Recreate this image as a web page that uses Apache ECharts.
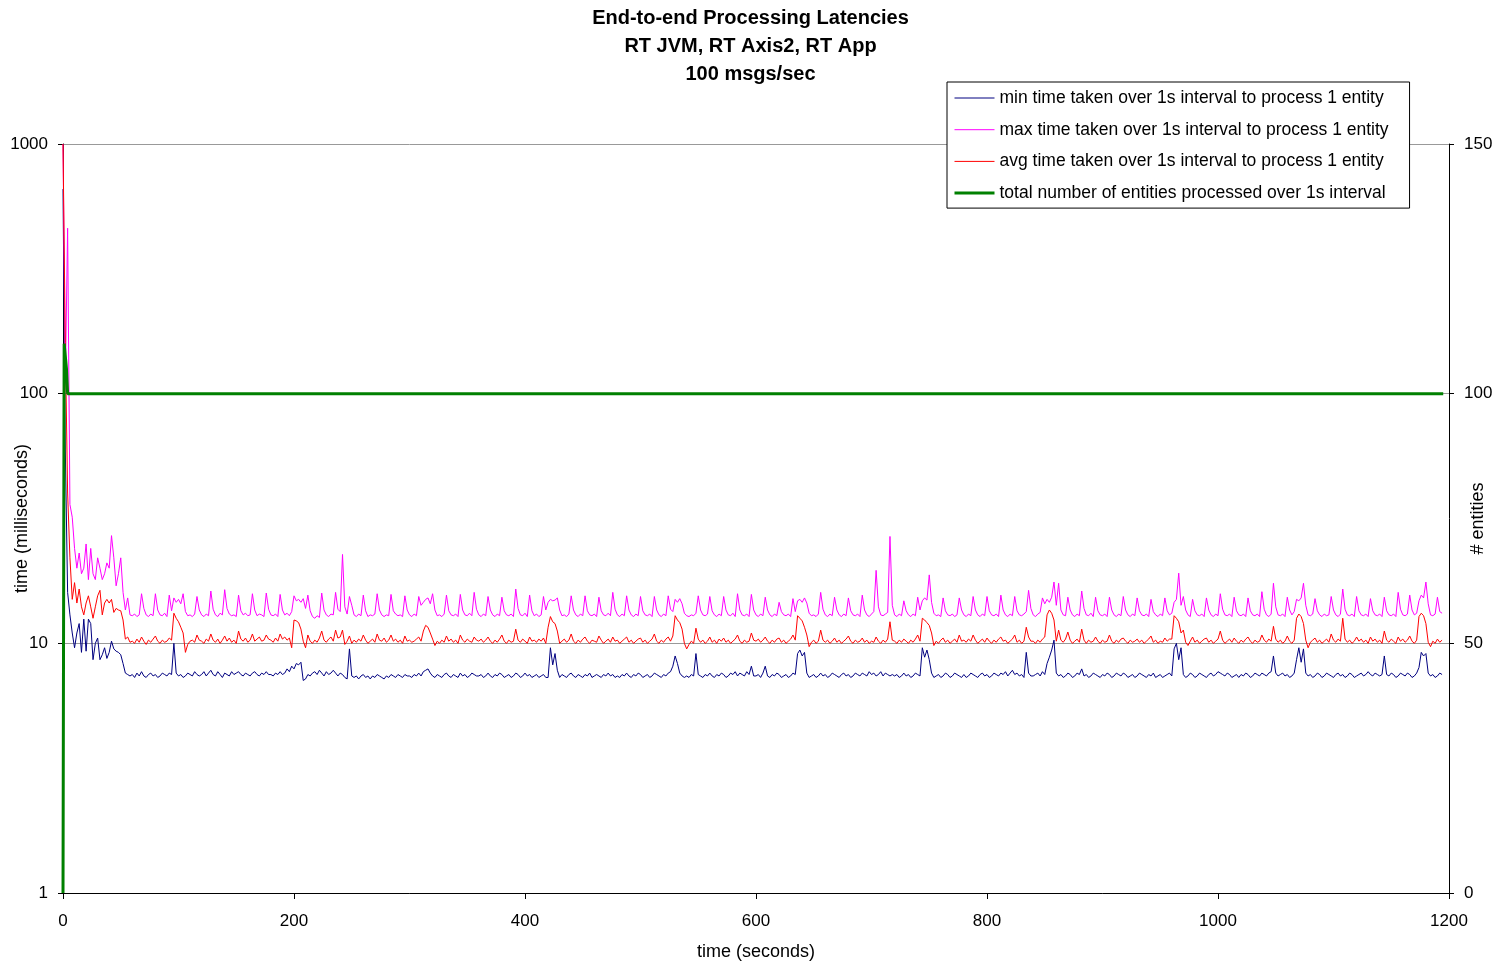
<!DOCTYPE html>
<html>
<head>
<meta charset="utf-8">
<title>End-to-end Processing Latencies</title>
<script src="https://cdn.jsdelivr.net/npm/echarts@6/dist/echarts.min.js"></script>
<style>
	html, body { margin: 0; padding: 0; background: #fff; }
	#chart { width: 1501px; height: 966px; }
</style>
</head>
<body>
<div id="chart"></div>
<script>
// one sample every 2 seconds, starting at t = 0
var sampleStep = 2;

var seriesNames = [
	'min time taken over 1s interval to process 1 entity',
	'max time taken over 1s interval to process 1 entity',
	'avg time taken over 1s interval to process 1 entity',
	'total number of entities processed over 1s interval'
];

// min latency (ms)
var minMs = [
	660, 60, 16, 13, 11, 9.6, 11, 12, 9.2, 12.5, 9.3, 12.5, 12, 8.6, 10, 10.5, 8.6, 9, 9.6, 8.7, 9.2, 10.2, 9.5, 9.3, 9.2, 9.0, 8.3, 7.6, 7.5, 7.4,
	7.5, 7.3, 7.6, 7.4, 7.7, 7.4, 7.3, 7.5, 7.6, 7.4, 7.5, 7.3, 7.4, 7.6, 7.5, 7.4, 7.6, 7.5, 10.0, 7.6, 7.4, 7.5, 7.3, 7.4, 7.6, 7.5, 7.4, 7.7, 7.5, 7.4,
	7.5, 7.7, 7.4, 7.6, 7.8, 7.5, 7.4, 7.7, 7.5, 7.3, 7.6, 7.5, 7.4, 7.7, 7.5, 7.6, 7.7, 7.5, 7.4, 7.6, 7.5, 7.4, 7.6, 7.7, 7.5, 7.4, 7.6, 7.5, 7.7, 7.5,
	7.5, 7.4, 7.6, 7.5, 7.7, 7.5, 7.6, 7.9, 7.7, 8.1, 7.9, 8.3, 8.2, 8.4, 7.1, 7.2, 7.5, 7.4, 7.6, 7.7, 7.5, 7.8, 7.6, 7.4, 7.7, 7.5, 7.6, 7.8, 7.6, 7.4,
	7.6, 7.5, 7.3, 7.2, 9.5, 7.4, 7.3, 7.4, 7.2, 7.4, 7.5, 7.3, 7.4, 7.2, 7.4, 7.3, 7.5, 7.4, 7.3, 7.2, 7.4, 7.3, 7.5, 7.4, 7.3, 7.5, 7.4, 7.3, 7.5, 7.4,
	7.4, 7.3, 7.5, 7.4, 7.6, 7.4, 7.7, 7.8, 7.9, 7.6, 7.4, 7.3, 7.5, 7.4, 7.3, 7.5, 7.6, 7.4, 7.3, 7.5, 7.4, 7.3, 7.6, 7.4, 7.5, 7.3, 7.4, 7.6, 7.5, 7.4,
	7.4, 7.5, 7.3, 7.4, 7.6, 7.4, 7.3, 7.5, 7.4, 7.6, 7.5, 7.3, 7.4, 7.5, 7.3, 7.4, 7.6, 7.5, 7.3, 7.4, 7.6, 7.4, 7.5, 7.3, 7.4, 7.5, 7.3, 7.4, 7.5, 7.3,
	7.3, 9.6, 8.2, 9.1, 7.8, 7.3, 7.5, 7.4, 7.3, 7.5, 7.6, 7.4, 7.3, 7.5, 7.4, 7.3, 7.5, 7.4, 7.6, 7.3, 7.4, 7.5, 7.4, 7.3, 7.5, 7.4, 7.6, 7.4, 7.5, 7.3,
	7.4, 7.3, 7.5, 7.4, 7.6, 7.4, 7.3, 7.5, 7.4, 7.6, 7.5, 7.3, 7.4, 7.5, 7.3, 7.4, 7.6, 7.5, 7.4, 7.3, 7.5, 7.4, 7.6, 7.7, 8.1, 8.9, 8.3, 7.6, 7.4, 7.3,
	7.4, 7.3, 7.5, 7.4, 9.1, 7.5, 7.4, 7.3, 7.5, 7.4, 7.6, 7.4, 7.3, 7.5, 7.4, 7.6, 7.5, 7.3, 7.4, 7.6, 7.5, 7.7, 7.4, 7.6, 7.5, 7.4, 7.7, 7.5, 8.1, 7.4,
	7.4, 7.5, 7.3, 7.6, 8.1, 7.4, 7.3, 7.5, 7.4, 7.6, 7.5, 7.3, 7.4, 7.5, 7.3, 7.4, 7.6, 7.5, 9.1, 9.4, 8.9, 9.2, 7.6, 7.3, 7.4, 7.5, 7.3, 7.4, 7.6, 7.4,
	7.5, 7.3, 7.4, 7.6, 7.5, 7.4, 7.3, 7.5, 7.6, 7.4, 7.5, 7.3, 7.4, 7.6, 7.5, 7.4, 7.6, 7.5, 7.4, 7.7, 7.5, 7.6, 7.4, 7.5, 7.7, 7.4, 7.6, 7.5, 7.4, 7.5,
	7.4, 7.5, 7.3, 7.4, 7.6, 7.4, 7.5, 7.3, 7.4, 7.6, 7.5, 7.4, 9.6, 8.8, 9.4, 8.6, 7.6, 7.3, 7.4, 7.5, 7.3, 7.4, 7.6, 7.5, 7.3, 7.4, 7.6, 7.5, 7.4, 7.3,
	7.5, 7.3, 7.4, 7.6, 7.5, 7.4, 7.3, 7.5, 7.6, 7.4, 7.5, 7.3, 7.4, 7.6, 7.5, 7.4, 7.6, 7.5, 7.7, 7.4, 7.6, 7.8, 7.5, 7.6, 7.4, 7.5, 7.3, 9.2, 7.6, 7.4,
	7.4, 7.5, 7.6, 7.4, 7.7, 7.5, 8.3, 8.8, 9.4, 10.3, 7.6, 7.4, 7.5, 7.3, 7.4, 7.6, 7.5, 7.3, 7.4, 7.6, 7.5, 7.9, 7.4, 7.5, 7.3, 7.4, 7.6, 7.5, 7.4, 7.3,
	7.5, 7.4, 7.6, 7.5, 7.3, 7.4, 7.6, 7.5, 7.4, 7.6, 7.5, 7.3, 7.4, 7.5, 7.3, 7.4, 7.6, 7.5, 7.4, 7.3, 7.5, 7.4, 7.6, 7.3, 7.4, 7.5, 7.3, 7.4, 7.5, 7.6,
	7.4, 9.5, 10.0, 8.6, 9.6, 7.5, 7.3, 7.4, 7.6, 7.5, 7.3, 7.4, 7.6, 7.5, 7.4, 7.3, 7.5, 7.6, 7.4, 7.5, 7.7, 7.6, 7.5, 7.4, 7.6, 7.5, 7.3, 7.4, 7.5, 7.3,
	7.5, 7.4, 7.6, 7.5, 7.3, 7.4, 7.6, 7.5, 7.4, 7.6, 7.5, 7.4, 7.6, 7.7, 8.9, 7.6, 7.4, 7.5, 7.6, 7.4, 7.5, 7.3, 7.4, 7.6, 8.6, 9.6, 8.4, 9.5, 7.6, 7.4,
	7.5, 7.3, 7.4, 7.6, 7.5, 7.3, 7.4, 7.6, 7.5, 7.4, 7.3, 7.5, 7.6, 7.4, 7.5, 7.3, 7.4, 7.6, 7.5, 7.3, 7.4, 7.5, 7.6, 7.4, 7.5, 7.7, 7.5, 7.4, 7.6, 7.5,
	7.4, 7.5, 8.9, 7.5, 7.4, 7.6, 7.5, 7.3, 7.4, 7.6, 7.5, 7.4, 7.6, 7.5, 7.3, 7.4, 7.6, 8.0, 9.2, 8.9, 9.1, 7.6, 7.4, 7.5, 7.3, 7.4, 7.6, 7.5
];

// max latency (ms)
var maxMs = [
	1000, 110, 460, 36, 32, 24, 20, 23, 19, 20, 25, 18, 24, 19, 18, 22, 20, 18, 19, 21, 20, 27, 22, 17, 19, 22, 16, 13.6, 15.2, 13.0,
	12.9, 13.1, 12.8, 13.0, 15.8, 13.8, 13.0, 12.8, 13.1, 12.9, 15.8, 13.6, 13.0, 12.9, 13.2, 12.8, 15.6, 13.5, 15.2, 14.6, 15.0, 14.4, 15.8, 13.4, 12.9, 13.0, 12.8, 13.1, 15.4, 13.6,
	13.0, 12.8, 13.1, 12.9, 16.2, 13.7, 13.0, 12.8, 13.2, 13.0, 16.4, 13.8, 13.1, 12.9, 13.0, 12.8, 15.6, 13.5, 13.0, 13.2, 12.9, 13.0, 15.8, 13.6, 12.9, 13.1, 13.0, 12.8, 15.9, 13.7,
	13.0, 12.9, 13.1, 12.8, 15.7, 13.6, 13.0, 13.2, 12.9, 13.4, 15.5, 14.8, 15.0, 14.6, 15.1, 13.8, 15.6, 13.5, 12.8, 12.6, 12.9, 12.7, 15.9, 13.6, 13.0, 12.8, 13.1, 13.0, 16.0, 13.7,
	13.4, 22.7, 14.0, 13.1, 15.4, 14.2, 13.0, 12.8, 13.1, 12.9, 15.6, 13.5, 12.8, 13.0, 12.9, 13.1, 15.8, 13.6, 13.0, 12.8, 13.0, 12.9, 15.7, 13.5, 13.1, 12.9, 13.0, 12.8, 15.5, 13.6,
	13.0, 12.8, 13.1, 12.9, 15.4, 14.2, 14.6, 15.0, 15.2, 14.4, 15.8, 13.6, 12.9, 13.0, 12.8, 13.1, 15.6, 13.5, 13.0, 12.9, 13.1, 12.8, 15.7, 13.6, 13.0, 12.9, 13.2, 12.9, 16.0, 13.7,
	13.0, 12.8, 13.1, 12.9, 15.4, 13.6, 13.0, 12.8, 13.1, 12.9, 15.3, 13.5, 13.0, 12.9, 13.1, 12.8, 16.5, 13.8, 13.0, 12.9, 13.2, 12.8, 15.6, 13.5, 12.9, 13.1, 12.8, 13.0, 15.4, 13.6,
	14.6, 15.0, 14.8, 14.9, 15.2, 13.6, 12.9, 13.0, 12.8, 13.1, 15.5, 13.6, 13.0, 12.8, 13.1, 12.9, 15.5, 13.5, 13.0, 12.9, 13.1, 12.8, 15.3, 13.5, 13.0, 12.9, 13.2, 12.9, 16.0, 13.7,
	13.0, 12.8, 13.1, 12.9, 15.5, 13.6, 13.0, 12.8, 13.1, 12.9, 15.4, 13.5, 13.0, 12.9, 13.1, 12.8, 15.4, 13.6, 13.0, 12.8, 13.1, 12.9, 15.5, 13.7, 13.4, 15.0, 14.6, 15.1, 14.4, 13.2,
	12.9, 12.8, 13.0, 12.9, 13.2, 15.5, 13.6, 13.0, 12.9, 13.1, 15.4, 13.5, 13.0, 12.8, 13.1, 12.9, 15.4, 13.6, 13.0, 12.9, 13.2, 12.8, 15.8, 13.6, 13.0, 12.9, 13.1, 12.8, 15.7, 13.6,
	13.0, 12.8, 13.1, 12.9, 15.3, 13.6, 13.0, 12.8, 13.1, 12.9, 14.6, 13.4, 13.0, 12.9, 13.1, 12.8, 15.1, 13.4, 14.8, 15.0, 14.6, 15.2, 14.5, 13.2, 12.9, 13.0, 12.8, 13.1, 16.0, 13.7,
	13.0, 12.8, 13.1, 12.9, 15.3, 13.6, 13.0, 12.8, 13.1, 12.9, 15.2, 13.5, 13.0, 12.9, 13.1, 12.8, 15.6, 13.6, 13.0, 12.8, 13.1, 13.4, 19.6, 14.0, 13.0, 12.9, 13.1, 13.3, 26.8, 14.2,
	13.0, 12.8, 13.1, 12.9, 14.8, 13.5, 13.0, 12.8, 13.1, 12.9, 15.3, 13.6, 14.8, 15.2, 14.9, 18.8, 14.6, 13.2, 12.9, 13.0, 12.8, 15.2, 13.5, 13.0, 12.9, 13.1, 12.8, 13.0, 15.2, 13.6,
	13.0, 12.8, 13.1, 12.9, 15.4, 13.6, 13.0, 12.8, 13.1, 12.9, 15.4, 13.5, 13.0, 12.9, 13.1, 12.8, 15.6, 13.6, 13.0, 12.8, 13.1, 12.9, 15.4, 13.5, 13.0, 12.9, 13.1, 13.4, 16.3, 13.8,
	13.0, 12.8, 13.1, 13.3, 15.2, 14.4, 15.0, 14.6, 15.3, 17.6, 14.2, 17.4, 13.6, 13.0, 12.9, 15.3, 13.6, 13.0, 12.8, 13.1, 12.9, 16.2, 13.8, 13.0, 12.9, 13.2, 12.8, 15.3, 13.5, 13.0,
	12.9, 13.1, 12.8, 15.3, 13.6, 13.0, 12.8, 13.1, 12.9, 15.4, 13.6, 13.0, 12.8, 13.1, 12.9, 15.2, 13.5, 13.0, 12.9, 13.1, 12.8, 15.0, 13.4, 13.0, 12.8, 13.1, 12.9, 15.2, 13.5, 13.0,
	13.2, 14.6, 15.0, 19.1, 14.2, 15.4, 13.6, 13.0, 12.8, 15.0, 13.5, 13.0, 12.9, 13.1, 12.8, 15.2, 13.6, 13.0, 12.8, 13.1, 12.9, 15.8, 13.7, 13.0, 12.9, 13.1, 12.8, 15.3, 13.5, 13.0,
	12.9, 13.1, 12.8, 15.2, 13.5, 13.0, 12.9, 13.1, 12.8, 16.1, 13.7, 13.0, 12.8, 13.1, 17.4, 14.0, 13.0, 12.9, 13.1, 12.8, 15.3, 13.6, 13.0, 13.4, 15.0, 14.8, 15.2, 17.4, 14.2, 13.0,
	12.9, 13.1, 15.1, 13.5, 13.0, 12.8, 13.1, 12.9, 13.0, 15.4, 13.6, 13.0, 12.8, 13.1, 16.5, 13.7, 13.0, 12.9, 13.1, 12.8, 15.4, 13.5, 13.0, 12.9, 13.1, 12.8, 15.1, 13.5, 13.0, 12.9,
	13.1, 12.8, 15.3, 13.5, 13.0, 12.9, 13.1, 12.8, 16.0, 13.7, 13.0, 12.9, 13.1, 15.6, 13.6, 13.0, 13.2, 14.8, 15.6, 15.2, 17.6, 14.4, 13.0, 12.9, 13.1, 15.3, 13.4, 13.2
];

// average latency (ms)
var avgMs = [
	1000, 160, 40, 22, 15, 17.5, 14.5, 16.5, 14, 13, 14.5, 15.5, 14, 12.6, 14, 15.5, 16.3, 13, 14.5, 15, 14.5, 15, 13.3, 13.8, 13.6, 13.5, 12.4, 10.4, 10.6, 10.1,
	10.2, 10.0, 10.4, 10.1, 10.6, 10.2, 9.9, 10.3, 10.1, 10.4, 10.7, 10.2, 10.0, 10.3, 10.1, 10.2, 10.5, 10.3, 13.2, 12.6, 12.2, 11.6, 11.0, 9.2, 9.9, 10.2, 10.3, 10.1, 10.8, 10.3,
	10.2, 10.0, 10.4, 10.2, 10.9, 10.3, 10.1, 10.4, 10.0, 10.3, 10.7, 10.2, 10.5, 10.1, 10.3, 10.0, 11.2, 10.4, 10.2, 10.5, 10.1, 10.3, 10.9, 10.2, 10.4, 10.6, 10.2, 10.3, 10.8, 10.4,
	10.3, 10.1, 10.5, 10.2, 10.9, 10.4, 10.6, 10.3, 10.5, 9.6, 12.4, 12.3, 12.1, 11.4, 10.2, 9.6, 10.8, 10.2, 10.0, 10.3, 10.1, 10.5, 11.2, 10.3, 10.1, 10.4, 10.6, 10.2, 11.3, 10.5,
	10.6, 11.3, 9.9, 10.2, 10.7, 10.0, 10.3, 10.1, 10.4, 10.2, 10.8, 10.3, 10.0, 10.2, 10.4, 10.1, 10.9, 10.3, 10.2, 10.5, 10.1, 10.3, 10.8, 10.2, 10.4, 10.1, 10.3, 10.0, 10.7, 10.2,
	10.3, 10.1, 10.2, 10.4, 10.6, 10.2, 11.2, 11.8, 11.6, 11.0, 10.4, 9.8, 10.2, 10.0, 10.3, 10.1, 10.7, 10.2, 10.4, 10.1, 10.3, 10.0, 10.8, 10.3, 10.1, 10.4, 10.2, 10.1, 10.6, 10.3,
	10.2, 10.4, 10.1, 10.3, 10.6, 10.2, 10.0, 10.3, 10.1, 10.4, 10.8, 10.2, 10.0, 10.3, 10.1, 10.2, 11.4, 10.3, 10.1, 10.4, 10.2, 10.0, 10.6, 10.2, 10.3, 10.1, 10.4, 10.2, 10.5, 10.0,
	11.6, 12.8, 12.2, 12.0, 11.2, 10.0, 10.2, 10.4, 10.1, 10.3, 10.9, 10.2, 10.0, 10.3, 10.1, 10.4, 10.6, 10.2, 10.0, 10.3, 10.2, 10.1, 10.7, 10.3, 10.0, 10.2, 10.4, 10.1, 10.6, 10.2,
	10.3, 10.0, 10.2, 10.4, 10.6, 10.1, 10.3, 10.0, 10.2, 10.4, 10.5, 10.1, 10.3, 10.0, 10.2, 10.4, 10.9, 10.2, 10.0, 10.3, 10.1, 10.4, 10.6, 10.2, 10.7, 12.9, 12.4, 12.1, 11.4, 10.0,
	9.5, 9.9, 10.2, 10.0, 11.5, 10.4, 10.1, 10.3, 10.0, 10.2, 10.6, 10.1, 10.3, 10.0, 10.4, 10.2, 10.5, 10.1, 10.3, 10.0, 10.2, 10.4, 10.8, 10.2, 10.0, 10.3, 10.1, 10.2, 11.0, 10.3,
	10.2, 10.4, 10.1, 10.3, 10.6, 10.2, 10.0, 10.3, 10.1, 10.4, 10.5, 10.1, 10.3, 10.0, 10.2, 10.4, 10.8, 10.3, 12.9, 12.6, 12.3, 11.6, 10.8, 9.7, 10.1, 10.3, 10.0, 10.2, 11.3, 10.3,
	10.1, 10.3, 10.0, 10.2, 10.5, 10.1, 10.3, 10.0, 10.2, 10.4, 10.7, 10.2, 10.0, 10.3, 10.1, 10.2, 10.5, 10.1, 10.3, 10.0, 10.2, 10.1, 10.6, 10.2, 10.0, 10.3, 10.1, 10.4, 12.2, 10.3,
	10.2, 10.0, 10.3, 10.1, 10.4, 10.2, 10.0, 10.3, 10.1, 10.4, 10.8, 10.2, 12.6, 12.4, 12.1, 11.8, 11.0, 9.8, 10.2, 10.0, 10.3, 10.5, 10.1, 10.3, 10.0, 10.2, 10.4, 10.1, 10.8, 10.2,
	10.3, 10.1, 10.4, 10.2, 10.8, 10.3, 10.0, 10.2, 10.4, 10.1, 10.5, 10.2, 10.0, 10.3, 10.1, 10.4, 10.6, 10.2, 10.3, 10.0, 10.2, 10.4, 10.8, 10.1, 10.3, 10.0, 10.2, 11.6, 10.6, 10.2,
	10.2, 10.0, 10.3, 10.1, 10.4, 10.6, 13.0, 13.6, 13.2, 12.4, 10.2, 11.3, 10.3, 10.1, 10.4, 11.1, 10.3, 10.0, 10.2, 10.4, 10.1, 11.4, 10.3, 10.0, 10.3, 10.1, 10.2, 10.6, 10.2, 10.0,
	10.3, 10.1, 10.2, 10.8, 10.2, 10.0, 10.3, 10.1, 10.4, 10.5, 10.2, 10.0, 10.3, 10.1, 10.2, 10.4, 10.1, 10.3, 10.0, 10.2, 10.4, 10.7, 10.1, 10.3, 10.0, 10.2, 10.1, 10.5, 10.2, 10.4,
	10.4, 12.9, 12.6, 12.2, 11.0, 11.3, 10.1, 9.8, 10.2, 10.6, 10.1, 10.3, 10.0, 10.2, 10.4, 10.5, 10.1, 10.3, 10.0, 10.2, 10.4, 11.2, 10.3, 10.0, 10.2, 10.4, 10.1, 10.5, 10.2, 10.0,
	10.3, 10.1, 10.4, 10.6, 10.2, 10.0, 10.3, 10.1, 10.2, 10.8, 10.3, 10.1, 10.4, 10.2, 11.7, 10.4, 10.1, 10.3, 10.0, 10.2, 10.7, 10.2, 10.0, 10.3, 12.6, 13.1, 12.8, 12.0, 10.3, 9.6,
	10.1, 10.3, 10.5, 10.1, 10.3, 10.0, 10.2, 10.4, 10.1, 10.9, 10.3, 10.1, 10.4, 10.2, 12.6, 10.4, 10.1, 10.3, 10.0, 10.2, 10.6, 10.2, 10.4, 10.1, 10.3, 10.0, 10.6, 10.2, 10.4, 10.1,
	10.3, 10.0, 11.2, 10.3, 10.1, 10.4, 10.2, 10.0, 10.6, 10.2, 10.4, 10.1, 10.3, 10.7, 10.2, 10.0, 10.3, 12.8, 13.2, 12.9, 12.0, 10.1, 9.7, 10.2, 10.0, 10.4, 10.1, 10.3
];

// entities processed per second: [time (s), count]
var entities = [[0, 0], [1, 110], [2.5, 110], [3, 105], [4, 100], [1195, 100]];

function toPoints(values) {
	return values.map(function(v, i) {
		return [i * sampleStep, v];
	});
}

function plainNumber(v) {
	return String(v);
}

var myChart = echarts.init(document.getElementById('chart'), null, { renderer: 'canvas' });
var axisFont = { color: '#000', fontSize: 17, fontFamily: 'Liberation Sans', formatter: plainNumber };
var option = {
	backgroundColor: '#fff',
	animation: false,
	textStyle: { fontFamily: 'Liberation Sans' },
	title: {
		text: 'End-to-end Processing Latencies\nRT JVM, RT Axis2, RT App\n100 msgs/sec',
		left: 'center',
		top: 4,
		padding: 0,
		textStyle: {
			color: '#000',
			fontSize: 20,
			fontWeight: 'bold',
			lineHeight: 28,
			fontFamily: 'Liberation Sans'
		}
	},
	legend: {
		orient: 'vertical',
		left: 947,
		top: 82,
		padding: [7, 21, 6, 6],
		itemWidth: 40,
		itemHeight: 18,
		itemGap: 13.7,
		borderColor: '#000',
		borderWidth: 1,
		backgroundColor: '#fff',
		// hide the marker dot, keep only the line sample
		itemStyle: { opacity: 0 },
		textStyle: { color: '#000', fontSize: 17.5, fontFamily: 'Liberation Sans' },
		data: [
			{ name: seriesNames[0], lineStyle: { width: 1 } },
			{ name: seriesNames[1], lineStyle: { width: 1 } },
			{ name: seriesNames[2], lineStyle: { width: 1 } },
			{ name: seriesNames[3], lineStyle: { width: 3 } }
		]
	},
	grid: { left: 63, right: 52, top: 144, bottom: 73, containLabel: false, outerBoundsMode: 'none' },
	xAxis: {
		type: 'value',
		min: 0,
		max: 1200,
		interval: 200,
		name: 'time (seconds)',
		nameLocation: 'middle',
		nameGap: 50,
		nameMoveOverlap: false,
		nameTextStyle: { color: '#000', fontSize: 18 },
		axisLine: { show: true, lineStyle: { color: '#000', width: 1 } },
		axisTick: { show: true, length: 6, lineStyle: { color: '#000' } },
		axisLabel: Object.assign({ margin: 20 }, axisFont),
		splitLine: { show: false }
	},
	yAxis: [{
		type: 'log',
		logBase: 10,
		min: 1,
		max: 1000,
		name: 'time (milliseconds)',
		nameLocation: 'middle',
		nameGap: 32,
		nameRotate: 90,
		nameMoveOverlap: false,
		nameTextStyle: { color: '#000', fontSize: 18 },
		axisLine: { show: true, lineStyle: { color: '#000', width: 1 } },
		axisTick: { show: true, length: 5, lineStyle: { color: '#000' } },
		axisLabel: Object.assign({ margin: 15 }, axisFont),
		minorTick: { show: false },
		splitLine: { show: true, lineStyle: { color: '#999', width: 1 } }
	}, {
		type: 'value',
		position: 'right',
		min: 0,
		max: 150,
		interval: 50,
		name: '# entities',
		nameLocation: 'middle',
		nameGap: 20,
		nameRotate: 90,
		nameMoveOverlap: false,
		nameTextStyle: { color: '#000', fontSize: 18 },
		axisLine: { show: true, lineStyle: { color: '#000', width: 1 } },
		axisTick: { show: true, length: 5, lineStyle: { color: '#000' } },
		axisLabel: Object.assign({ margin: 15 }, axisFont),
		splitLine: { show: false }
	}],
	series: [{
		name: seriesNames[0],
		type: 'line',
		yAxisIndex: 0,
		symbol: 'none',
		data: toPoints(minMs),
		lineStyle: { color: '#000080', width: 1 },
		itemStyle: { color: '#000080' }
	}, {
		name: seriesNames[1],
		type: 'line',
		yAxisIndex: 0,
		symbol: 'none',
		data: toPoints(maxMs),
		lineStyle: { color: '#ff00ff', width: 1 },
		itemStyle: { color: '#ff00ff' }
	}, {
		name: seriesNames[2],
		type: 'line',
		yAxisIndex: 0,
		symbol: 'none',
		data: toPoints(avgMs),
		lineStyle: { color: '#ff0000', width: 1 },
		itemStyle: { color: '#ff0000' }
	}, {
		name: seriesNames[3],
		type: 'line',
		yAxisIndex: 1,
		symbol: 'none',
		data: entities,
		lineStyle: { color: '#008000', width: 3 },
		itemStyle: { color: '#008000' }
	}]
};
myChart.setOption(option);
</script>
</body>
</html>
